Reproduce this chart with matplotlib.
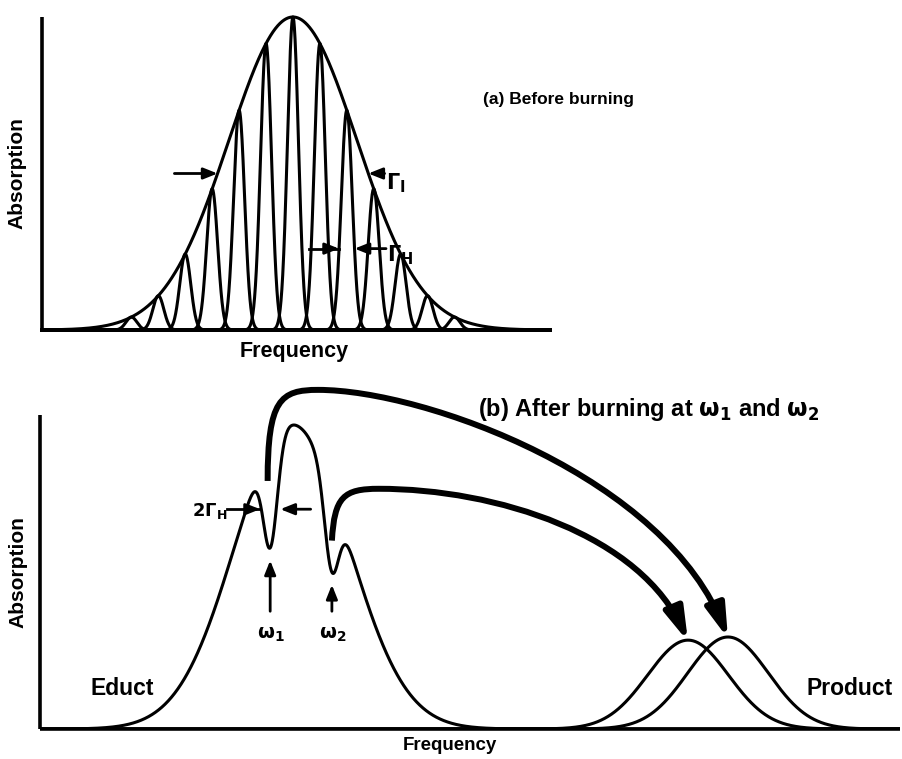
import numpy as np
import matplotlib
matplotlib.use("Agg")
import matplotlib.pyplot as plt
from matplotlib.patches import FancyArrowPatch
from matplotlib.path import Path

plt.rcParams['font.family'] = ['Liberation Sans', 'DejaVu Sans']
plt.rcParams['font.weight'] = 'bold'
plt.rcParams['mathtext.fontset'] = 'dejavusans'

# (a) inhomogeneous band made of narrow homogeneous lines (arbitrary units)
inhom_center = 4.94
inhom_sigma = 1.26
line_spacing = 0.53
line_sigma = 0.108
line_index = [-6, -5, -4, -3, -2, -1, 0, 1, 2, 3, 4, 5, 6]

# (b) educt band with two burnt holes, and the two product bands
educt_center = 4.98
educt_sigma = 1.12
educt_height = 0.97
hole_pos = [4.55, 5.77]          # omega_1, omega_2
hole_depth = [0.36, 0.34]
hole_sigma = [0.14, 0.14]
product_pos = [12.81, 13.60]
product_height = [0.283, 0.293]
product_sigma = [0.80, 0.80]


def gauss(x, c, s, h=1.0):
    return h * np.exp(-0.5 * ((x - c) / s) ** 2)


def educt(x):
    y = gauss(x, educt_center, educt_sigma, educt_height)
    for p, d, s in zip(hole_pos, hole_depth, hole_sigma):
        y = y * (1 - d * gauss(x, p, s))
    return y


LW = 2.2
fig = plt.figure(figsize=(9.02, 7.59), dpi=100)
W, H = 902.0, 759.0


def style_axes(ax):
    for side in ['top', 'right']:
        ax.spines[side].set_visible(False)
    for side in ['left', 'bottom']:
        ax.spines[side].set_linewidth(2.6)
        ax.spines[side].set_capstyle('butt')
    ax.set_xticks([])
    ax.set_yticks([])
    ax.patch.set_alpha(0)


def small_arrow(ax, tail, head):
    ax.annotate('', xy=head, xytext=tail,
                arrowprops=dict(arrowstyle='-|>,head_length=0.7,head_width=0.28',
                                lw=2.0, color='k', mutation_scale=12,
                                shrinkA=0, shrinkB=0), annotation_clip=False)


# ---------------- (a) Before burning ----------------
ax_a = fig.add_axes([42 / W, 1 - 330 / H, (550 - 42) / W, (330 - 17) / H])
style_axes(ax_a)
ax_a.set_xlim(0, 10)
ax_a.set_ylim(0, 1)

xa = np.linspace(0, 10, 3000)
ax_a.plot(xa, gauss(xa, inhom_center, inhom_sigma), color='k', lw=LW, clip_on=False)
for k in line_index:
    c = inhom_center + k * line_spacing
    h = gauss(c, inhom_center, inhom_sigma)
    ax_a.plot(xa, gauss(xa, c, line_sigma, h), color='k', lw=LW, clip_on=False)

# inhomogeneous width at half maximum
hw = inhom_sigma * np.sqrt(2 * np.log(2))
small_arrow(ax_a, (inhom_center - hw - 0.85, 0.5), (inhom_center - hw, 0.5))
small_arrow(ax_a, (inhom_center + hw + 0.32, 0.5), (inhom_center + hw, 0.5))
ax_a.text(inhom_center + hw + 0.34, 0.47, r'$\mathbf{\Gamma_I}$', fontsize=15,
          va='center', ha='left')

# homogeneous width of one narrow line
k_h = 2
c_h = inhom_center + k_h * line_spacing
h_h = gauss(c_h, inhom_center, inhom_sigma)
y_h = 0.26
dx_h = line_sigma * np.sqrt(2 * np.log(h_h / y_h))
ax_a.plot([c_h - dx_h - 0.6, c_h - dx_h], [y_h, y_h], color='k', lw=2.0)
small_arrow(ax_a, (c_h - dx_h - 0.3, y_h), (c_h - dx_h, y_h))
small_arrow(ax_a, (c_h + dx_h + 0.62, y_h), (c_h + dx_h, y_h))
ax_a.text(c_h + dx_h + 0.64, y_h - 0.02, r'$\mathbf{\Gamma_H}$', fontsize=15,
          va='center', ha='left')

ax_a.text(8.68, 0.735, '(a) Before burning', fontsize=12.5, va='center', ha='left')
ax_a.set_xlabel('Frequency', fontsize=15.5, fontweight='bold')
ax_a.set_ylabel('Absorption', fontsize=15, fontweight='bold')
ax_a.xaxis.set_label_coords(0.496, -0.035)
ax_a.yaxis.set_label_coords(-0.030, 0.5)

# ---------------- (b) After burning ----------------
ax_b = fig.add_axes([40 / W, 1 - 729 / H, (900 - 40) / W, (729 - 415) / H])
style_axes(ax_b)
ax_b.set_xlim(0, 17)
ax_b.set_ylim(0, 1)

xb = np.linspace(0, 17, 4000)
ax_b.plot(xb, educt(xb), color='k', lw=LW)
for p, h, s in zip(product_pos, product_height, product_sigma):
    ax_b.plot(xb, gauss(xb, p, s, h), color='k', lw=LW)

# burning positions
for p, lab in zip(hole_pos, [r'$\mathbf{\omega_1}$', r'$\mathbf{\omega_2}$']):
    yb = educt(p)
    small_arrow(ax_b, (p, 0.375), (p, yb - 0.04))
    ax_b.text(p + 0.02, 0.30, lab, fontsize=14, ha='center', va='center')

# hole width
p1 = hole_pos[0]
hh = 0.2
y2g = 0.70
ax_b.plot([p1 - hh - 0.65, p1 - hh], [y2g, y2g], color='k', lw=2.0)
small_arrow(ax_b, (p1 - hh - 0.3, y2g), (p1 - hh, y2g))
small_arrow(ax_b, (p1 + hh + 0.6, y2g), (p1 + hh, y2g))
ax_b.text(p1 - hh - 0.64, y2g - 0.005, r'$\mathbf{2\Gamma_H}$', fontsize=13,
          ha='right', va='center')

# photoproduct conversion arrows: omega_1 -> right product, omega_2 -> left product
arrow_style = '-|>,head_length=1.1,head_width=0.32'
codes = [Path.MOVETO, Path.CURVE4, Path.CURVE4, Path.CURVE4,
         Path.CURVE4, Path.CURVE4, Path.CURVE4]
outer = Path([(hole_pos[0] - 0.05, 0.79), (hole_pos[0] - 0.05, 1.05),
              (4.75, 1.08), (5.5, 1.08),
              (7.6, 1.08), (12.4, 0.80), (product_pos[1], product_height[1] - 0.005)],
             codes)
inner = Path([(hole_pos[1], 0.60), (hole_pos[1] + 0.05, 0.74),
              (6.0, 0.765), (6.7, 0.765),
              (9.0, 0.765), (11.9, 0.62), (product_pos[0], product_height[0] - 0.005)],
             codes)
for pth in [outer, inner]:
    ax_b.add_patch(FancyArrowPatch(path=pth, arrowstyle=arrow_style, lw=4.3,
                                   color='k', mutation_scale=18, clip_on=False,
                                   joinstyle='round', capstyle='butt'))

ax_b.text(8.66, 1.016, r'(b) After burning at $\mathbf{\omega_1}$ and $\mathbf{\omega_2}$',
          fontsize=17, ha='left', va='center')
ax_b.text(1.62, 0.13, 'Educt', fontsize=16.5, ha='center', va='center')
ax_b.text(16.0, 0.13, 'Product', fontsize=16.5, ha='center', va='center')
ax_b.set_xlabel('Frequency', fontsize=13.5, fontweight='bold')
ax_b.set_ylabel('Absorption', fontsize=15, fontweight='bold')
ax_b.xaxis.set_label_coords(0.477, -0.025)
ax_b.yaxis.set_label_coords(-0.015, 0.5)

fig.savefig('out.png', dpi=100)
